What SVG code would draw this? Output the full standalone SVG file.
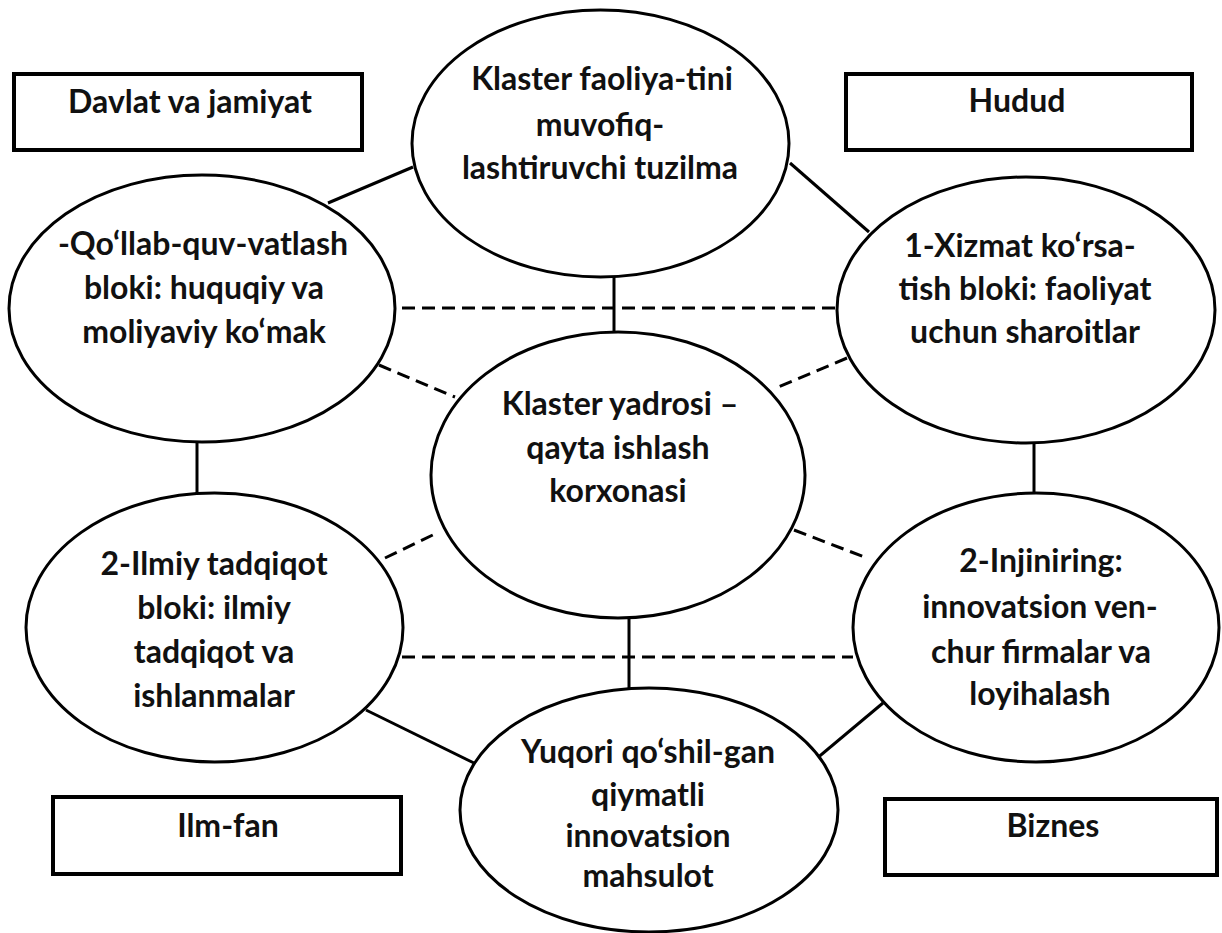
<svg xmlns="http://www.w3.org/2000/svg" width="1222" height="933" viewBox="0 0 1222 933">
<style>
.bg{fill:#ffffff}
.box{fill:#ffffff;stroke:#000000;stroke-width:4}
.ell{fill:#ffffff;stroke:#000000;stroke-width:3}
.solid{stroke:#000000;stroke-width:3;fill:none}
.dash{stroke:#000000;stroke-width:3;fill:none;stroke-dasharray:13 7}
text{font-family:Lato,"Liberation Sans",sans-serif;font-weight:bold;font-size:32px;fill:#111111;text-anchor:middle}
</style>
<rect class="bg" x="0" y="0" width="1222" height="933"/>
<g id="connectors">
<line class="solid" x1="328" y1="203" x2="413" y2="167"/>
<line class="solid" x1="790" y1="163" x2="869" y2="232"/>
<line class="solid" x1="614" y1="277" x2="614" y2="332"/>
<line class="solid" x1="197" y1="442" x2="197" y2="493"/>
<line class="solid" x1="1034" y1="443" x2="1034" y2="493"/>
<line class="solid" x1="629" y1="618" x2="629" y2="688"/>
<line class="solid" x1="366" y1="710" x2="474" y2="763"/>
<line class="solid" x1="883" y1="703" x2="809" y2="765"/>
<line class="dash" x1="402" y1="308" x2="837" y2="308"/>
<line class="dash" x1="402" y1="657" x2="853" y2="657"/>
<line class="dash" x1="379" y1="365" x2="455" y2="397"/>
<line class="dash" x1="847" y1="358" x2="776" y2="388"/>
<line class="dash" x1="385" y1="558" x2="439" y2="532"/>
<line class="dash" x1="794" y1="530" x2="867" y2="558"/>
</g>
<g id="box-davlat">
<rect class="box" x="14" y="74" width="348" height="76"/>
<text x="190" y="113">Davlat va jamiyat</text>
</g>
<g id="box-hudud">
<rect class="box" x="846" y="74" width="346" height="76"/>
<text x="1017" y="112">Hudud</text>
</g>
<g id="box-ilmfan">
<rect class="box" x="53" y="797" width="348" height="77"/>
<text x="228" y="837">Ilm-fan</text>
</g>
<g id="box-biznes">
<rect class="box" x="885" y="799" width="332" height="76"/>
<text x="1053" y="837">Biznes</text>
</g>
<g id="node-top">
<ellipse class="ell" cx="600.5" cy="143.5" rx="188.5" ry="133.5"/>
<text x="602" y="90">Klaster faoliya-tini</text>
<text x="600" y="136">muvofiq-</text>
<text x="600" y="179">lashtiruvchi tuzilma</text>
</g>
<g id="node-left-upper">
<ellipse class="ell" cx="202" cy="308.5" rx="193" ry="133.5"/>
<text x="203" y="255">-Qo‘llab-quv-vatlash</text>
<text x="204" y="299">bloki: huquqiy va</text>
<text x="204" y="343">moliyaviy ko‘mak</text>
</g>
<g id="node-right-upper">
<ellipse class="ell" cx="1026" cy="310" rx="189" ry="133"/>
<text x="1020" y="257">1-Xizmat ko‘rsa-</text>
<text x="1025" y="300">tish bloki: faoliyat</text>
<text x="1025" y="343">uchun sharoitlar</text>
</g>
<g id="node-center">
<ellipse class="ell" cx="618" cy="475" rx="187" ry="143"/>
<text x="620" y="415">Klaster yadrosi –</text>
<text x="618" y="459">qayta ishlash</text>
<text x="618" y="502">korxonasi</text>
</g>
<g id="node-left-lower">
<ellipse class="ell" cx="214.5" cy="627.5" rx="188.5" ry="134.5"/>
<text x="214" y="575">2-Ilmiy tadqiqot</text>
<text x="214" y="619">bloki: ilmiy</text>
<text x="214" y="663">tadqiqot va</text>
<text x="214" y="707">ishlanmalar</text>
</g>
<g id="node-right-lower">
<ellipse class="ell" cx="1036" cy="627.5" rx="183" ry="134.5"/>
<text x="1041" y="572">2-Injiniring:</text>
<text x="1040" y="618">innovatsion ven-</text>
<text x="1041" y="663">chur firmalar va</text>
<text x="1040" y="705">loyihalash</text>
</g>
<g id="node-bottom">
<ellipse class="ell" cx="649" cy="810" rx="189" ry="122"/>
<text x="648" y="763">Yuqori qo‘shil-gan</text>
<text x="648" y="806">qiymatli</text>
<text x="648" y="847">innovatsion</text>
<text x="648" y="887">mahsulot</text>
</g>
</svg>
